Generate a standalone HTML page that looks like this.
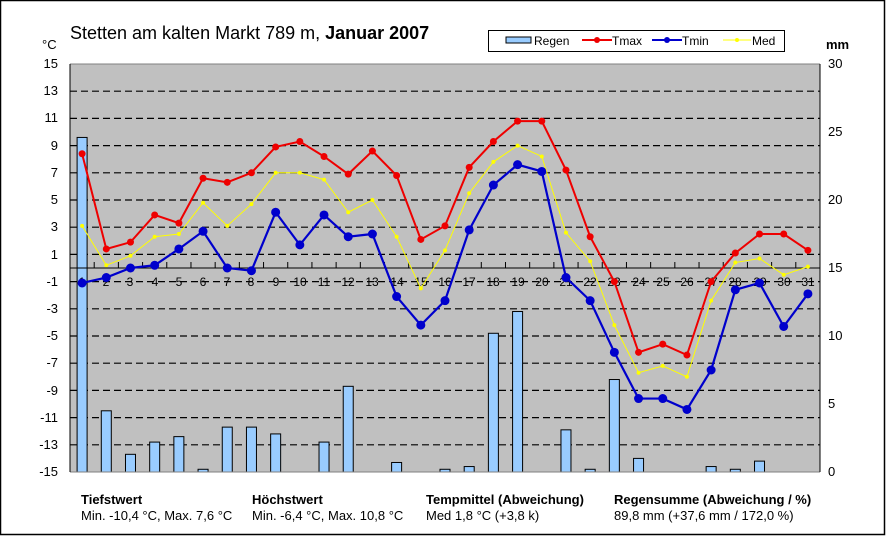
<!DOCTYPE html>
<html><head><meta charset="utf-8"><style>
body{margin:0;background:#fff}
svg{display:block;font-family:"Liberation Sans",Arial,sans-serif}
</style></head><body>
<svg id="s" width="886" height="536" xmlns="http://www.w3.org/2000/svg">
<rect x="0.5" y="0.5" width="884" height="534" fill="#fff" stroke="#000" stroke-width="1.5"/>
<text x="70" y="39" font-size="18">Stetten am kalten Markt  789 m, <tspan font-weight="bold">Januar 2007</tspan></text>
<text x="42" y="49" font-size="13">°C</text>
<text x="826" y="49" font-size="13" font-weight="bold">mm</text>
<rect x="70" y="64" width="750" height="408" fill="#c0c0c0"/>
<g id="grid" stroke="#000" stroke-dasharray="7,4" stroke-width="1.2"></g>
<g id="bars"></g>
<line x1="70" y1="64" x2="820" y2="64" stroke="#808080"/>
<line x1="70" y1="472" x2="820" y2="472" stroke="#808080"/>
<line x1="70" y1="64" x2="70" y2="472" stroke="#000"/>
<line x1="820" y1="64" x2="820" y2="472" stroke="#000"/>
<line x1="70" y1="268" x2="820" y2="268" stroke="#000"/>
<g id="ticks" stroke="#000"></g>
<g font-size="13" text-anchor="end">
<text x="58" y="68">15</text><text x="58" y="95">13</text><text x="58" y="122">11</text><text x="58" y="150">9</text><text x="58" y="177">7</text><text x="58" y="204">5</text><text x="58" y="231">3</text><text x="58" y="259">1</text><text x="58" y="286">-1</text><text x="58" y="313">-3</text><text x="58" y="340">-5</text><text x="58" y="367">-7</text><text x="58" y="395">-9</text><text x="58" y="422">-11</text><text x="58" y="449">-13</text><text x="58" y="476">-15</text>
</g>
<g font-size="13" text-anchor="start">
<text x="828" y="68">30</text><text x="828" y="136">25</text><text x="828" y="204">20</text><text x="828" y="272">15</text><text x="828" y="340">10</text><text x="828" y="408">5</text><text x="828" y="476">0</text>
</g>
<g font-size="12" text-anchor="middle">
<text x="82" y="286">1</text><text x="106" y="286">2</text><text x="130" y="286">3</text><text x="155" y="286">4</text><text x="179" y="286">5</text><text x="203" y="286">6</text><text x="227" y="286">7</text><text x="251" y="286">8</text><text x="276" y="286">9</text><text x="300" y="286">10</text><text x="324" y="286">11</text><text x="348" y="286">12</text><text x="372" y="286">13</text><text x="397" y="286">14</text><text x="421" y="286">15</text><text x="445" y="286">16</text><text x="469" y="286">17</text><text x="493" y="286">18</text><text x="518" y="286">19</text><text x="542" y="286">20</text><text x="566" y="286">21</text><text x="590" y="286">22</text><text x="614" y="286">23</text><text x="639" y="286">24</text><text x="663" y="286">25</text><text x="687" y="286">26</text><text x="711" y="286">27</text><text x="735" y="286">28</text><text x="760" y="286">29</text><text x="784" y="286">30</text><text x="808" y="286">31</text>
</g>
<g id="lines"></g>
<rect x="488.5" y="30.5" width="296" height="21" fill="#fff" stroke="#000"/>
<rect x="506" y="37" width="25" height="6" fill="#99ccff" stroke="#000"/>
<text x="534" y="45" font-size="12">Regen</text>
<line x1="582" y1="40" x2="612" y2="40" stroke="#ee0000" stroke-width="2"/><circle cx="597" cy="40" r="3" fill="#ee0000"/>
<text x="612" y="45" font-size="12">Tmax</text>
<line x1="652" y1="40" x2="682" y2="40" stroke="#0000cc" stroke-width="2"/><circle cx="667" cy="40" r="3" fill="#0000cc"/>
<text x="682" y="45" font-size="12">Tmin</text>
<line x1="723" y1="40" x2="751" y2="40" stroke="#ffff00" stroke-width="1"/><circle cx="737" cy="40" r="2" fill="#ffff00"/>
<text x="752" y="45" font-size="12">Med</text>
<g font-size="13">
<text x="81" y="504" font-weight="bold">Tiefstwert</text><text x="81" y="520">Min. -10,4  °C, Max. 7,6 °C</text>
<text x="252" y="504" font-weight="bold">Höchstwert</text><text x="252" y="520">Min. -6,4  °C, Max. 10,8 °C</text>
<text x="426" y="504" font-weight="bold">Tempmittel (Abweichung)</text><text x="426" y="520">Med 1,8 °C (+3,8 k)</text>
<text x="614" y="504" font-weight="bold">Regensumme (Abweichung / %)</text><text x="614" y="520">89,8  mm (+37,6 mm / 172,0  %)</text>
</g>
</svg>
<script>
var NS="http://www.w3.org/2000/svg";
function el(p,t,a){var e=document.createElementNS(NS,t);for(var k in a)e.setAttribute(k,a[k]);document.getElementById(p).appendChild(e);return e;}
function Y(v){return 472-(v+15)*13.6;}
function X(i){return 70+(i+0.5)*750/31;}
for(var v=-13;v<=13;v+=2){el("grid","line",{x1:70,x2:820,y1:Y(v),y2:Y(v)});}
for(var i=0;i<=31;i++){var x=70+i*750/31;el("ticks","line",{x1:x,x2:x,y1:262,y2:268});}
var rain=[24.6,4.5,1.3,2.2,2.6,0.2,3.3,3.3,2.8,0,2.2,6.3,0,0.7,0,0.2,0.4,10.2,11.8,0,3.1,0.2,6.8,1.0,0,0,0.4,0.2,0.8,0,0];
rain.forEach(function(r,i){if(r>0)el("bars","rect",{x:X(i)-5,y:472-r*13.6,width:10,height:r*13.6,fill:"#99ccff",stroke:"#000","stroke-width":1});});
var tmax=[8.4,1.4,1.9,3.9,3.3,6.6,6.3,7.0,8.9,9.3,8.2,6.9,8.6,6.8,2.1,3.1,7.4,9.3,10.8,10.8,7.2,2.3,-1.0,-6.2,-5.6,-6.4,-1.0,1.1,2.5,2.5,1.3];
var tmin=[-1.1,-0.7,0.0,0.2,1.4,2.7,0.0,-0.2,4.1,1.7,3.9,2.3,2.5,-2.1,-4.2,-2.4,2.8,6.1,7.6,7.1,-0.7,-2.4,-6.2,-9.6,-9.6,-10.4,-7.5,-1.6,-1.1,-4.3,-1.9];
var med=[3.1,0.2,0.9,2.3,2.5,4.8,3.1,4.7,7.0,7.0,6.5,4.1,5.0,2.3,-1.5,1.3,5.5,7.8,9.0,8.2,2.6,0.5,-4.2,-7.7,-7.2,-8.0,-2.4,0.4,0.7,-0.5,0.1];
function series(d,c,w,r){var pts=d.map(function(v,i){return X(i)+","+Y(v);}).join(" ");
el("lines","polyline",{points:pts,fill:"none",stroke:c,"stroke-width":w});
d.forEach(function(v,i){el("lines","circle",{cx:X(i),cy:Y(v),r:r,fill:c});});}
series(med,"#ffff00",1,2);
series(tmax,"#ee0000",2,3.5);
series(tmin,"#0000cc",2.2,4.5);
</script>
</body></html>
